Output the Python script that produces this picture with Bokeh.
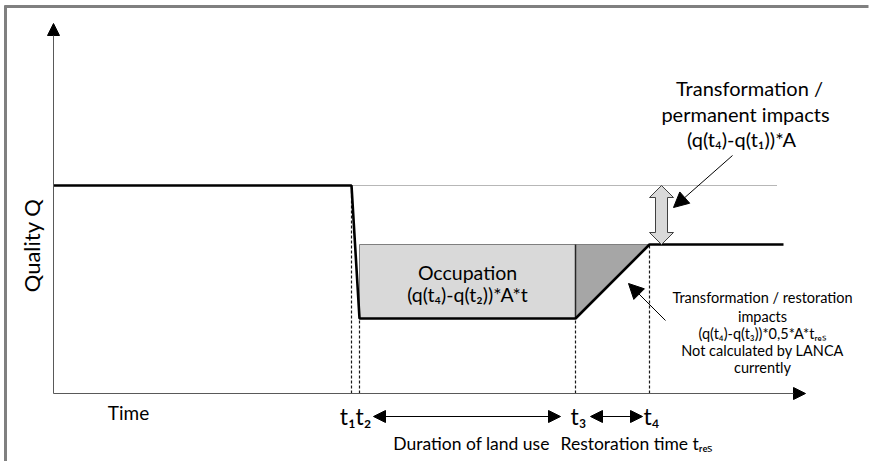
import math
from bokeh.plotting import figure
from bokeh.models import Range1d, Arrow, NormalHead
from bokeh.core.properties import value
from bokeh.embed import file_html
from bokeh.resources import INLINE

# ---- data (schematic units: time along x, quality along y) ----
t1 = 29.8
t2 = 30.6
t3 = 52.2
t4 = 59.6
t_end = 73.0
t_dotted_end = 72.4
t_axis_end = 75.2
q_axis_end = 37.0

q_high = 20.8
q_low = 7.5
q_final = 14.9

curve_t = [0.0, t1, t2, t3, t4, t_end]
curve_q = [q_high, q_high, q_low, q_low, q_final, q_final]

time_marks = [t1, t2, t3, t4]
time_mark_tops = [q_high, q_low, q_low, q_final]

# labels
axis_y_label = "Quality Q"
axis_x_label = "Time"
t12_label = "t\u2081t\u2082"
t3_label = "t\u2083"
t4_label = "t\u2084"
duration_label = "Duration of land use"
restoration_label = "Restoration time t\u1d63\u2091\u209b"
occupation_lines = ["Occupation", "(q(t\u2084)-q(t\u2082))*A*t"]
permanent_lines = ["Transformation /", "permanent impacts", "(q(t\u2084)-q(t\u2081))*A"]
restoration_lines = ["Transformation / restoration", "impacts",
                     "(q(t\u2084)-q(t\u2083))*0,5*A*t\u1d63\u2091\u209b",
                     "Not calculated by LANCA", "currently"]

FONT = value("Lato")

p = figure(width=878, height=461, output_backend="svg", toolbar_location=None,
           x_range=Range1d(-5.3, 82.5), y_range=Range1d(-6.8, 39.3),
           min_border=0)
p.xaxis.visible = False
p.yaxis.visible = False
p.grid.visible = False
p.outline_line_color = None
p.background_fill_color = "white"
p.border_fill_color = "white"

# ---- frame (top and left grey border) ----
p.segment(x0=[-4.9, -4.8], y0=[38.7, 38.8], x1=[81.5, -4.8], y1=[38.7, -6.8],
          line_color="#808080", line_width=3)

# ---- occupation box and restoration triangle ----
p.quad(left=[t2], right=[t3], bottom=[q_low], top=[q_final],
       fill_color="#d9d9d9", line_color="#7f7f7f", line_width=1)
p.patch(x=[t3, t4, t3], y=[q_final, q_final, q_low],
        fill_color="#a6a6a6", line_color="#7f7f7f", line_width=1)
p.segment(x0=[t3], y0=[q_low], x1=[t3], y1=[q_final], line_color="#262626", line_width=1.5)

# ---- dashed verticals ----
p.segment(x0=time_marks, y0=[0] * 4, x1=time_marks, y1=time_mark_tops,
          line_color="#1a1a1a", line_width=1.2, line_dash="3 2")

# ---- dotted reference line ----
p.line(x=[t1, t_dotted_end], y=[q_high, q_high], line_color="#6e6e6e",
       line_width=1, line_dash="1 1")

# ---- quality curve ----
p.line(x=curve_t, y=curve_q, line_color="black", line_width=2.6)

# ---- block double arrow (permanent impact) ----
cx = t4 + 1.2
hw, sw, hl = 1.2, 0.6, 1.2
bx = [cx, cx + hw, cx + sw, cx + sw, cx + hw, cx, cx - hw, cx - sw, cx - sw, cx - hw]
by = [q_high, q_high - hl, q_high - hl, q_final + hl, q_final + hl, q_final,
      q_final + hl, q_final + hl, q_high - hl, q_high - hl]
p.patch(x=bx, y=by, fill_color="#d9d9d9", line_color="#404040", line_width=1)

# ---- axes with arrow heads ----
p.add_layout(Arrow(end=NormalHead(size=12, fill_color="black", line_color="black"),
                   x_start=0, y_start=0, x_end=t_axis_end, y_end=0,
                   line_color="#595959", line_width=1))
p.add_layout(Arrow(end=NormalHead(size=12, fill_color="black", line_color="black"),
                   x_start=0, y_start=0, x_end=0, y_end=q_axis_end,
                   line_color="#595959", line_width=1))

# ---- annotation arrows ----
p.add_layout(Arrow(end=NormalHead(size=15, fill_color="black", line_color="black"),
                   x_start=67.9, y_start=23.8, x_end=62.0, y_end=18.6,
                   line_color="black", line_width=1))
p.add_layout(Arrow(end=NormalHead(size=15, fill_color="black", line_color="black"),
                   x_start=61.2, y_start=7.3, x_end=57.5, y_end=11.0,
                   line_color="black", line_width=1))

# ---- time span arrows under the axis ----
p.add_layout(Arrow(start=NormalHead(size=12, fill_color="black", line_color="black"),
                   end=NormalHead(size=12, fill_color="black", line_color="black"),
                   x_start=t2 + 1.4, y_start=-2.3, x_end=t3 - 1.5, y_end=-2.3,
                   line_color="black", line_width=1))
p.add_layout(Arrow(start=NormalHead(size=12, fill_color="black", line_color="black"),
                   end=NormalHead(size=12, fill_color="black", line_color="black"),
                   x_start=t3 + 1.5, y_start=-2.3, x_end=t4 - 0.7, y_end=-2.3,
                   line_color="black", line_width=1))

# ---- texts ----
p.text(x=[-2.2], y=[14.8], text=[axis_y_label], angle=math.pi / 2,
       text_font=FONT, text_font_size="22px", text_align="center",
       text_baseline="middle", text_color="black")
p.text(x=[7.5], y=[-1.9], text=[axis_x_label], text_font=FONT, text_font_size="19px",
       text_align="center", text_baseline="middle", text_color="black")
p.text(x=[t2 + 1.2], y=[-2.2], text=[t12_label], text_font=FONT, text_font_size="23px",
       text_align="right", text_baseline="middle", text_color="black")
p.text(x=[t3 - 0.5, t4 - 0.6], y=[-2.2, -2.2], text=[t3_label, t4_label], text_font=FONT,
       text_font_size="23px", text_align="left", text_baseline="middle", text_color="black")
p.text(x=[41.8], y=[-5.0], text=[duration_label], text_font=FONT, text_font_size="17.5px",
       text_align="center", text_baseline="middle", text_color="black")
p.text(x=[50.7], y=[-5.0], text=[restoration_label], text_font=FONT, text_font_size="17.5px",
       text_align="left", text_baseline="middle", text_color="black")

p.text(x=[(t2 + t3) / 2] * 2, y=[12.1, 9.9], text=occupation_lines, text_font=FONT,
       text_font_size="19.5px", text_align="center", text_baseline="middle", text_color="black")
p.text(x=[69.6, 69.2, 68.8], y=[30.6, 28.0, 25.5], text=permanent_lines, text_font=FONT,
       text_font_size="20px", text_align="center", text_baseline="middle", text_color="black")
p.text(x=[70.9] * 5, y=[9.6, 7.7, 6.0, 4.3, 2.6], text=restoration_lines, text_font=FONT,
       text_font_size="14.5px", text_align="center", text_baseline="middle", text_color="black")

open("out.html", "w").write(file_html(p, INLINE))
